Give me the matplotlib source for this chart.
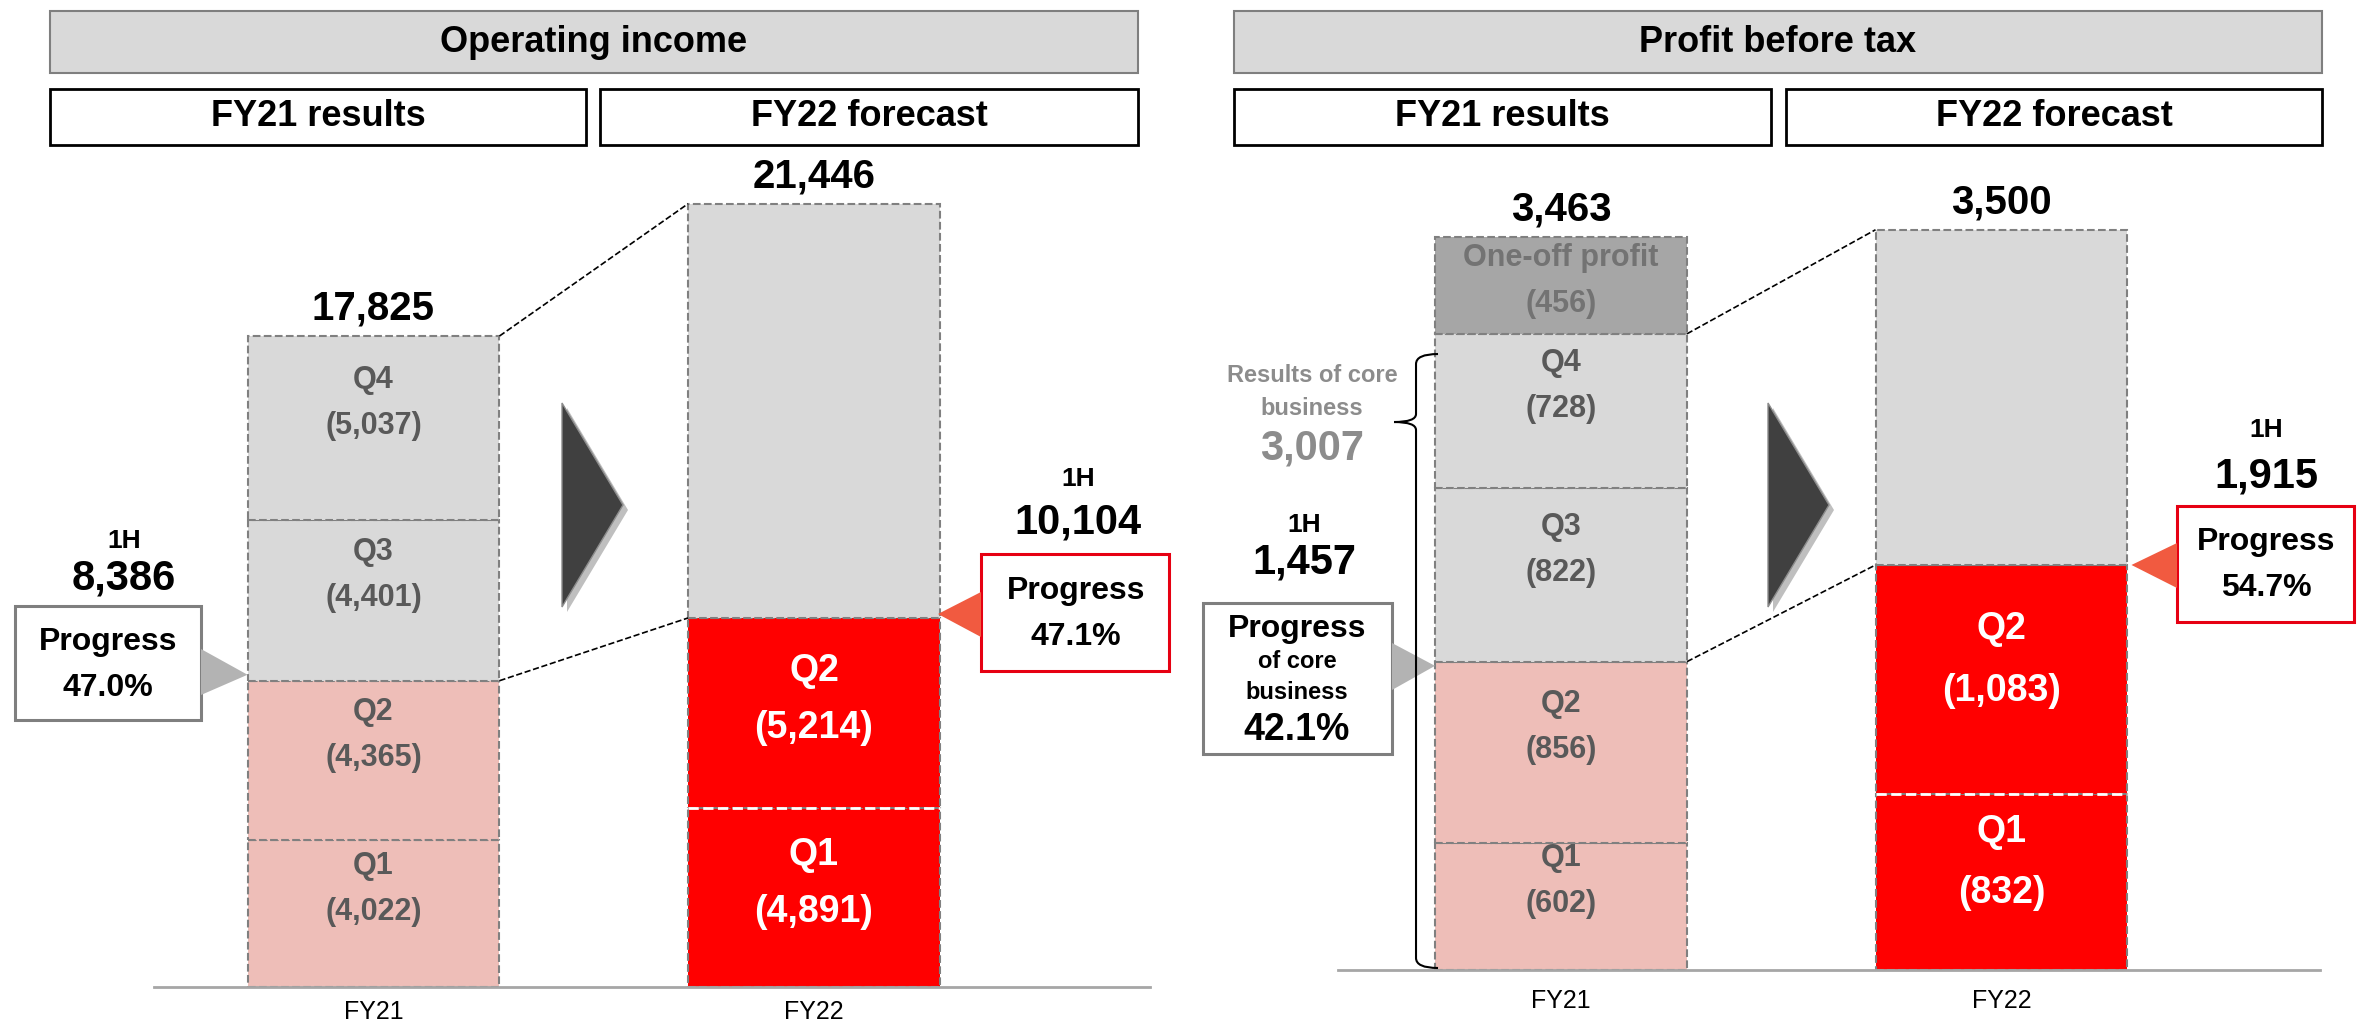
import matplotlib.pyplot as plt
from matplotlib.patches import Rectangle, Polygon, PathPatch
from matplotlib.path import Path

plt.rcParams['font.family'] = ['Liberation Sans', 'DejaVu Sans']
plt.rcParams['font.weight'] = 'bold'

W, H = 2369, 1022

years = ['FY21', 'FY22']
quarters = ['Q1', 'Q2', 'Q3', 'Q4']

# Operating income
oi_fy21 = [4022, 4365, 4401, 5037]
oi_fy21_total = 17825
oi_fy22_1h = [4891, 5214]
oi_fy22_total = 21446
oi_1h = [8386, 10104]
oi_progress = ['47.0%', '47.1%']

# Profit before tax
pbt_fy21 = [602, 856, 822, 728]
pbt_oneoff = 456
pbt_fy21_total = 3463
pbt_core = 3007
pbt_fy22_1h = [832, 1083]
pbt_fy22_total = 3500
pbt_1h = [1457, 1915]
pbt_progress = ['42.1%', '54.7%']

PINK = '#EEBEB8'
LGREY = '#D9D9D9'
MGREY = '#A6A6A6'
RED = '#FF0000'
EDGE = '#808080'
LAB = '#595959'
BOXRED = '#E60012'
CORAL = '#F15A40'
PGREY = '#B3B3B3'
BW = 0.572

fig = plt.figure(figsize=(W / 100, H / 100), dpi=100)


def panel(left, right, base, c0, step, ppu, ytop, pad):
    ax = fig.add_axes([left / W, (H - base) / H, (right - left) / W, ytop * ppu / H])
    ax.set_xlim((left - c0) / step, (right - c0) / step)
    ax.set_ylim(0, ytop)
    for s in ['left', 'right', 'top']:
        ax.spines[s].set_visible(False)
    ax.spines['bottom'].set_color('#A6A6A6')
    ax.spines['bottom'].set_linewidth(2)
    ax.set_yticks([])
    ax.set_xticks([0, 1])
    ax.set_xticklabels(years, fontsize=18, fontweight='normal')
    ax.tick_params(axis='x', length=0, pad=pad)
    ax.patch.set_alpha(0)
    return ax


axL = panel(154, 1150, 987, 373.5, 440.5, 0.03652, 24000, 9)
axR = panel(1338, 2320, 970, 1561, 440.5, 0.2115, 4000, 14)

ov = fig.add_axes([0, 0, 1, 1], zorder=5)
ov.set_xlim(0, W)
ov.set_ylim(H, 0)
ov.axis('off')


def p(ax, x, y):
    return ov.transData.inverted().transform(ax.transData.transform((x, y)))


def seg(ax, x, bottom, v, color, label=None, tcolor=LAB, size=22, off=18, ls=1.7):
    ax.bar(x, v, bottom=bottom, width=BW, color=color, edgecolor=EDGE,
           linestyle='--', linewidth=1.5)
    if label:
        ax.annotate(label, (x, bottom + v / 2), xytext=(0, off), textcoords='offset points',
                    ha='center', va='center', color=tcolor, fontsize=size, linespacing=ls)


def total_label(ax, x, v):
    ax.annotate(f'{v:,}', (x, v), xytext=(0, 12), textcoords='offset points',
                ha='center', va='baseline', fontsize=29, color='black')


# ---- Operating income bars
b = 0
for q, v, c in zip(quarters, oi_fy21, [PINK, PINK, LGREY, LGREY]):
    seg(axL, 0, b, v, c, f'{q}\n({v:,})')
    b += v
total_label(axL, 0, oi_fy21_total)

b = 0
for q, v in zip(quarters, oi_fy22_1h):
    seg(axL, 1, b, v, RED, f'{q}\n({v:,})', 'white', 27, 10, 1.75)
    b += v
seg(axL, 1, b, oi_fy22_total - b, LGREY)
axL.hlines(oi_fy22_1h[0], 1 - BW / 2, 1 + BW / 2, colors='white', linestyles='--', lw=2)
total_label(axL, 1, oi_fy22_total)

axL.plot([BW / 2, 1 - BW / 2], [oi_fy21_total, oi_fy22_total], ls='--', color='k', lw=1.2, clip_on=False)
axL.plot([BW / 2, 1 - BW / 2], [sum(oi_fy21[:2]), sum(oi_fy22_1h)], ls='--', color='k', lw=1.2, clip_on=False)

# ---- Profit before tax bars
b = 0
for q, v, c in zip(quarters, pbt_fy21, [PINK, PINK, LGREY, LGREY]):
    seg(axR, 0, b, v, c, f'{q}\n({v:,})')
    b += v
seg(axR, 0, b, pbt_oneoff, MGREY, f'One-off profit\n({pbt_oneoff:,})', '#737373', 22, 3)
total_label(axR, 0, pbt_fy21_total)

b = 0
for q, v in zip(quarters, pbt_fy22_1h):
    seg(axR, 1, b, v, RED, f'{q}\n({v:,})', 'white', 27, 14, 1.9)
    b += v
seg(axR, 1, b, pbt_fy22_total - b, LGREY)
axR.hlines(pbt_fy22_1h[0], 1 - BW / 2, 1 + BW / 2, colors='white', linestyles='--', lw=2)
total_label(axR, 1, pbt_fy22_total)

axR.plot([BW / 2, 1 - BW / 2], [sum(pbt_fy21), pbt_fy22_total], ls='--', color='k', lw=1.2, clip_on=False)
axR.plot([BW / 2, 1 - BW / 2], [sum(pbt_fy21[:2]), sum(pbt_fy22_1h)], ls='--', color='k', lw=1.2, clip_on=False)


# ---- header boxes
def box(x, y, w, h, text, fc='white', ec='black', lw=2, size=26):
    ov.add_patch(Rectangle((x, y), w, h, facecolor=fc, edgecolor=ec, lw=lw))
    ov.text(x + w / 2, y + h / 2, text, ha='center', va='center', fontsize=size)


box(50, 11, 1088, 62, 'Operating income', LGREY, '#7F7F7F', 1.5)
box(50, 89, 536, 56, 'FY21 results')
box(600, 89, 538, 56, 'FY22 forecast')
box(1234, 11, 1088, 62, 'Profit before tax', LGREY, '#7F7F7F', 1.5)
box(1234, 89, 537, 56, 'FY21 results')
box(1786, 89, 536, 56, 'FY22 forecast')

# ---- big arrows
for x0 in [562, 1768]:
    tri = [(x0, 403), (x0 + 61, 505), (x0, 607)]
    ov.add_patch(Polygon([(a + 5, c + 5) for a, c in tri], closed=True, fc='black', alpha=0.25, lw=0))
    ov.add_patch(Polygon(tri, closed=True, fc='#404040', ec='#8C8C8C', lw=1))


# ---- callouts
def callout(cx, y1h, yval, value, bx, by, bw, bh, ec, pcol, apex, base_x, base_y):
    ov.text(cx, y1h, '1H', ha='center', va='center', fontsize=19)
    ov.text(cx, yval, f'{value:,}', ha='center', va='center', fontsize=30)
    ov.add_patch(Rectangle((bx, by), bw, bh, facecolor='white', edgecolor=ec, lw=2.2))
    ov.add_patch(Polygon([apex, (base_x, base_y[0]), (base_x, base_y[1])], closed=True, fc=pcol, lw=0))


a = p(axL, -BW / 2, oi_1h[0])
callout(124, 541, 579, oi_1h[0], 15, 606, 186, 114, '#7F7F7F', PGREY, (a[0], a[1] - 6), 201, (649, 695))
ov.text(108, 665, f'Progress\n{oi_progress[0]}', ha='center', va='center', fontsize=23, linespacing=1.7)

a = p(axL, 1 + BW / 2, oi_1h[1])
callout(1078, 479, 522, oi_1h[1], 981, 554, 188, 117, BOXRED, CORAL, (a[0] - 2, a[1] - 4), 981, (592, 637))
ov.text(1076, 614, f'Progress\n{oi_progress[1]}', ha='center', va='center', fontsize=23, linespacing=1.7)

a = p(axR, -BW / 2, pbt_1h[0])
callout(1304, 525, 563, pbt_1h[0], 1203, 603, 189, 151, '#7F7F7F', PGREY, (a[0], a[1] + 4), 1392, (643, 690))
ov.text(1297, 629, 'Progress', ha='center', va='center', fontsize=23)
ov.text(1297, 677, 'of core\nbusiness', ha='center', va='center', fontsize=17, linespacing=1.45)
ov.text(1297, 730, pbt_progress[0], ha='center', va='center', fontsize=27)

a = p(axR, 1 + BW / 2, pbt_1h[1])
callout(2266, 430, 477, pbt_1h[1], 2177, 506, 177, 116, BOXRED, CORAL, (a[0] + 4, a[1]), 2177, (543, 588))
ov.text(2266, 565, f'Progress\n{pbt_progress[1]}', ha='center', va='center', fontsize=23, linespacing=1.7)

# ---- core business brace
xbar, ytop = p(axR, -BW / 2, pbt_core)
ybot = p(axR, -BW / 2, 0)[1] - 2
ytop += 20
xv = xbar - 19
tip = ytop + 68
verts = [(xbar + 3, ytop), (xv, ytop), (xv, ytop + 10), (xv, tip - 8), (xv, tip), (xv - 22, tip),
         (xv, tip), (xv, tip + 8), (xv, ybot - 10), (xv, ybot), (xbar + 3, ybot)]
codes = [Path.MOVETO, Path.CURVE3, Path.CURVE3, Path.LINETO, Path.CURVE3, Path.CURVE3,
         Path.CURVE3, Path.CURVE3, Path.LINETO, Path.CURVE3, Path.CURVE3]
ov.add_patch(PathPatch(Path(verts, codes), fill=False, ec='black', lw=1.5))

ov.text(1312, 392, 'Results of core\nbusiness', ha='center', va='center', fontsize=17,
        color='#8C8C8C', linespacing=1.6)
ov.text(1312, 448, f'{pbt_core:,}', ha='center', va='center', fontsize=30, color='#8C8C8C')

fig.savefig('out.png', dpi=100)
